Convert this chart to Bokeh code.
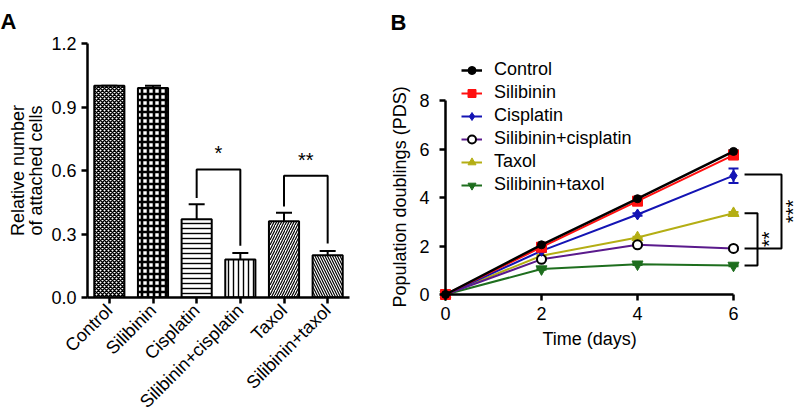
from math import pi
from bokeh.plotting import figure
from bokeh.models import (ColumnDataSource, FixedTicker, Whisker, TeeHead, Title,
                          Legend, LegendItem, NumeralTickFormatter, LinearAxis)
from bokeh.core.properties import value
from bokeh.layouts import row
from bokeh.embed import file_html
from bokeh.resources import INLINE

FONT = "Liberation Sans"
FS = "18px"

# ---------------- Panel A data ----------------
groups = ["Control", "Silibinin", "Cisplatin", "Silibinin+cisplatin", "Taxol", "Silibinin+taxol"]
attached = [1.00, 0.99, 0.37, 0.18, 0.36, 0.20]
attached_err = [0.0, 0.01, 0.07, 0.03, 0.04, 0.02]
hatch_types = ["x", "+", "-", "|", "/", "\\"]
sig_a_pairs = [(2, 3), (4, 5)]
sig_a_marks = ["*", "**"]
sig_a_levels = [0.605, 0.575]
a_yticks = [0.0, 0.3, 0.6, 0.9, 1.2]

# ---------------- Panel B data ----------------
days = [0, 2, 4, 6]
series_names = ["Control", "Silibinin", "Cisplatin", "Silibinin+cisplatin", "Taxol", "Silibinin+taxol"]
control = [0, 2.05, 3.95, 5.90]
silibinin = [0, 1.95, 3.85, 5.75]
cisplatin = [0, 1.80, 3.30, 4.90]
sil_cis = [0, 1.45, 2.05, 1.90]
taxol = [0, 1.60, 2.35, 3.35]
sil_taxol = [0, 1.05, 1.25, 1.20]
control_err = [0, 0.05, 0.05, 0.05]
silibinin_err = [0, 0.05, 0.05, 0.05]
cisplatin_err = [0, 0.05, 0.05, 0.30]
sil_cis_err = [0, 0.05, 0.05, 0.05]
taxol_err = [0, 0.03, 0.03, 0.05]
sil_taxol_err = [0, 0.03, 0.03, 0.03]
b_xticks = [0, 2, 4, 6]
b_yticks = [0, 2, 4, 6, 8]
sig_b_pairs = [(2, 3), (4, 5)]
sig_b_marks = ["***", "**"]


def style_axis(ax):
    ax.axis_line_width = 2.5
    ax.major_tick_line_width = 2.5
    ax.major_tick_out = 6
    ax.major_tick_in = 0
    ax.minor_tick_line_color = None
    ax.major_label_text_font = FONT
    ax.major_label_text_font_size = FS
    ax.major_label_text_color = "black"


# ================= Panel A =================
pa = figure(width=380, height=430, x_range=(0.5, 6.5), y_range=(0, 1.2),
            output_backend="svg", toolbar_location=None,
            min_border_left=87, min_border_right=31, min_border_top=43, min_border_bottom=100)
pa.frame_width = 262
pa.frame_height = 254
pa.outline_line_color = None
pa.grid.visible = False
pa.align = "start"

xs = list(range(1, len(groups) + 1))
h_scale = [4, 6, 5, 5, 5, 5]
h_weight = [1.5, 2.6, 1.4, 1.4, 1.2, 1.2]
for i in range(len(groups)):
    pa.vbar(x=[xs[i]], top=[attached[i]], width=0.69, fill_color="white",
            line_color="black", line_width=2,
            hatch_pattern=hatch_types[i], hatch_color="black",
            hatch_scale=h_scale[i], hatch_weight=h_weight[i])

err_src = ColumnDataSource(dict(x=xs, lo=attached,
                                hi=[a + e for a, e in zip(attached, attached_err)]))
pa.add_layout(Whisker(source=err_src, base="x", lower="lo", upper="hi", dimension="height",
                      line_width=2, line_color="black",
                      upper_head=TeeHead(size=16, line_width=2, line_color="black"),
                      lower_head=None))

for (i, j), mark, lvl in zip(sig_a_pairs, sig_a_marks, sig_a_levels):
    ti = attached[i] + attached_err[i] + 0.03
    tj = attached[j] + attached_err[j] + 0.035
    pa.line(x=[xs[i], xs[i], xs[j], xs[j]], y=[ti, lvl, lvl, tj], line_color="black", line_width=2)
    pa.text(x=[(xs[i] + xs[j]) / 2], y=[lvl + 0.025], text=[mark], text_align="center",
            text_baseline="bottom", text_font=value(FONT), text_font_size="20px",
            text_color="black")

style_axis(pa.xaxis[0])
style_axis(pa.yaxis[0])
pa.xaxis.ticker = FixedTicker(ticks=xs)
pa.xaxis.major_label_overrides = {x: g for x, g in zip(xs, groups)}
pa.xaxis.major_label_orientation = pi / 4
pa.xaxis.major_label_standoff = 4
pa.yaxis.ticker = FixedTicker(ticks=a_yticks)
pa.yaxis.formatter = NumeralTickFormatter(format="0.0")
pa.yaxis.major_label_standoff = 5
pa.yaxis.axis_label = "Relative number\nof attached cells"
pa.yaxis.axis_label_standoff = 2
pa.yaxis.axis_label_text_line_height = 0.9
pa.yaxis.axis_label_text_font = FONT
pa.yaxis.axis_label_text_font_size = FS
pa.yaxis.axis_label_text_font_style = "normal"
pa.yaxis.axis_label_text_color = "black"

pa.title.text = "A"
pa.title.align = "left"
pa.title.offset = -87
pa.title.standoff = 15
pa.title.vertical_align = "top"
pa.title.text_font = FONT
pa.title.text_font_size = "22px"
pa.title.text_font_style = "bold"
pa.title.text_color = "black"

# ================= Panel B =================
pxu = 48.0
pyu = 24.25
fl, fr, ft, fb = 433, 802, 42, 300   # frame edges on the page
x0_px, y0_px = 443, 293               # where data 0 sits
bx0 = -(x0_px - fl) / pxu
by0 = -(fb - y0_px) / pyu
pb = figure(width=430, height=400,
            x_range=(bx0, bx0 + (fr - fl) / pxu), y_range=(by0, by0 + (fb - ft) / pyu),
            output_backend="svg", toolbar_location=None,
            min_border_left=fl - 380, min_border_right=8, min_border_top=ft, min_border_bottom=90)
pb.frame_width = fr - fl
pb.frame_height = fb - ft
pb.outline_line_color = None
pb.grid.visible = False
pb.align = "start"

series_vals = [control, silibinin, cisplatin, sil_cis, taxol, sil_taxol]
series_errs = [control_err, silibinin_err, cisplatin_err, sil_cis_err, taxol_err, sil_taxol_err]
line_colors = ["black", "#ff1010", "#1414b4", "#5a1a8c", "#b4ae14", "#1e6e1e"]
markers = ["circle", "square", "diamond", "circle", "triangle", "inverted_triangle"]
m_fill = ["black", "#ff1010", "#1414b4", "white", "#b4ae14", "#1e6e1e"]
m_line = ["black", "#ff1010", "#1414b4", "black", "#b4ae14", "#1e6e1e"]
m_size = [8, 10, 11, 9, 11, 11]
l_width = [2.5, 2, 2, 2, 2, 2]

renderers = {}
for k in [5, 4, 3, 2, 1, 0]:
    vals = series_vals[k]
    errs = series_errs[k]
    src = ColumnDataSource(dict(x=days, y=vals,
                                lo=[v - e for v, e in zip(vals, errs)],
                                hi=[v + e for v, e in zip(vals, errs)]))
    r1 = pb.line("x", "y", source=src, line_color=line_colors[k], line_width=l_width[k])
    pb.add_layout(Whisker(source=src, base="x", lower="lo", upper="hi", dimension="height",
                          line_color=line_colors[k], line_width=2,
                          upper_head=TeeHead(size=10, line_width=2, line_color=line_colors[k]),
                          lower_head=TeeHead(size=10, line_width=2, line_color=line_colors[k])))
    r2 = pb.scatter("x", "y", source=src, marker=markers[k], size=m_size[k],
                    fill_color=m_fill[k], line_color=m_line[k],
                    line_width=2 if k == 3 else 1)
    renderers[k] = [r1, r2]

items = [LegendItem(label=series_names[k], renderers=renderers[k]) for k in range(len(series_names))]
legend = Legend(items=items, location=(459 - fl, 106), padding=0, margin=0, spacing=2,
                glyph_width=21, glyph_height=20, label_height=20, label_standoff=12,
                label_text_font=FONT, label_text_font_size=FS, label_text_color="black",
                border_line_alpha=0, background_fill_alpha=0)
pb.add_layout(legend)

xe = days[-1]
for (i, j), mark, xb in zip(sig_b_pairs, sig_b_marks, [7.0, 6.5]):
    yi = series_vals[i][-1] + (0.05 if i == 2 else 0)
    yj = series_vals[j][-1]
    pb.line(x=[xe + 0.23, xb, xb, xe + 0.23], y=[yi, yi, yj, yj],
            line_color="black", line_width=2)
    pb.text(x=[xb + 0.24], y=[(yi + yj) / 2], text=[mark], angle=pi / 2,
            text_align="center", text_baseline="middle", text_font=value(FONT),
            text_font_size="20px", text_color="black")

# axis lines and ticks sit at data 0
for ax in (pb.xaxis[0], pb.yaxis[0]):
    style_axis(ax)
    ax.fixed_location = 0
    ax.major_label_text_color = None
pb.xaxis[0].ticker = FixedTicker(ticks=b_xticks)
pb.xaxis[0].bounds = (0, 6)
pb.yaxis[0].ticker = FixedTicker(ticks=b_yticks)
pb.yaxis[0].bounds = (0, 8)

# label-only axes at the frame edges
lab_y = LinearAxis(ticker=FixedTicker(ticks=b_yticks), bounds=(0, 8),
                   axis_line_color=None, major_tick_line_color=None, minor_tick_line_color=None,
                   major_tick_out=0, major_tick_in=0, major_label_standoff=6,
                   major_label_text_font=FONT, major_label_text_font_size=FS,
                   major_label_text_color="black")
lab_x = LinearAxis(ticker=FixedTicker(ticks=b_xticks), bounds=(0, 6),
                   axis_line_color=None, major_tick_line_color=None, minor_tick_line_color=None,
                   major_tick_out=0, major_tick_in=0, major_label_standoff=5,
                   major_label_text_font=FONT, major_label_text_font_size=FS,
                   major_label_text_color="black")
pb.add_layout(lab_y, "left")
pb.add_layout(lab_x, "below")

pb.add_layout(Title(text="Population doublings (PDS)", align="left", standoff=14,
                    offset=-6,
                    text_font=FONT, text_font_size=FS, text_font_style="normal",
                    text_color="black"), "left")
pb.add_layout(Title(text="Time (days)", align="left", standoff=8,
                    offset=107,
                    text_font=FONT, text_font_size=FS, text_font_style="normal",
                    text_color="black"), "below")
pb.title.text = "B"
pb.title.align = "left"
pb.title.offset = -(fl - 388)
pb.title.standoff = 14
pb.title.vertical_align = "top"
pb.title.text_font = FONT
pb.title.text_font_size = "22px"
pb.title.text_font_style = "bold"
pb.title.text_color = "black"

layout = row(pa, pb)
open("out.html", "w").write(file_html(layout, INLINE))
